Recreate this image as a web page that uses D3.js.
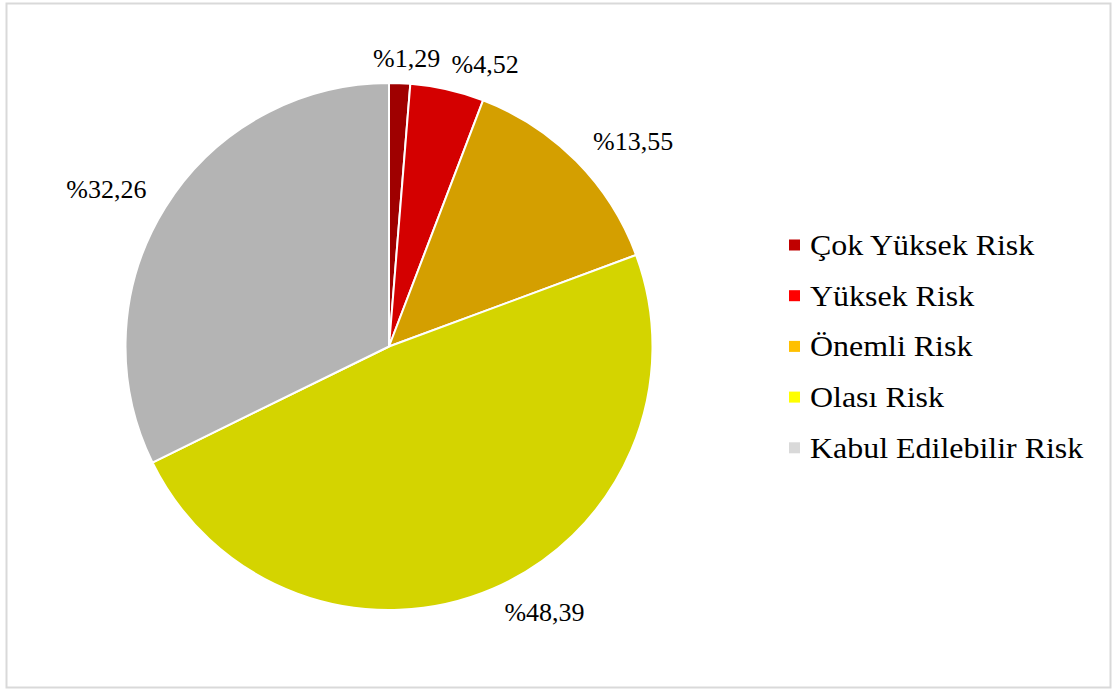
<!DOCTYPE html>
<html>
<head>
<meta charset="utf-8">
<script src="https://cdn.jsdelivr.net/npm/d3@7"></script>
<style>
  html, body { margin: 0; padding: 0; background: #ffffff; }
  svg { display: block; }
  text { font-family: "Liberation Serif", "Times New Roman", serif; fill: #000; }
</style>
</head>
<body>
<svg id="chart" width="1115" height="690"></svg>
<script>
// Risk categories and their shares (%)
const categories = ["Çok Yüksek Risk", "Yüksek Risk", "Önemli Risk", "Olası Risk", "Kabul Edilebilir Risk"];
const shares = [1.29, 4.52, 13.55, 48.39, 32.26];
const shareLabels = ["%1,29", "%4,52", "%13,55", "%48,39", "%32,26"];
const legendColors = ["#C00000", "#FF0000", "#FFC000", "#FFFF00", "#D9D9D9"];

const svg = d3.select("#chart");

// outer frame
svg.append("rect")
  .attr("x", 6.5).attr("y", 3.5)
  .attr("width", 1104).attr("height", 684)
  .attr("fill", "#fff")
  .attr("stroke", "#d9d9d9").attr("stroke-width", 2);

const cx = 389, cy = 346.5, r = 263.5;

// slices are drawn with a shaded version of each legend colour
const shade = c => {
  const k = d3.rgb(c);
  return d3.rgb(k.r * 0.83, k.g * 0.83, k.b * 0.83).formatHex();
};

const color = d3.scaleOrdinal().domain(categories).range(legendColors);

const pie = d3.pie().sort(null).value(d => d.v);
const data = categories.map((c, i) => ({ c, v: shares[i], label: shareLabels[i] }));
const arcs = pie(data);
const arc = d3.arc().innerRadius(0).outerRadius(r);

const g = svg.append("g").attr("transform", `translate(${cx},${cy})`);

g.selectAll("path.slice")
  .data(arcs)
  .join("path")
  .attr("class", "slice")
  .attr("d", arc)
  .attr("fill", d => shade(color(d.data.c)))
  .attr("stroke", "#ffffff")
  .attr("stroke-width", 2)
  .attr("stroke-linejoin", "round");

// data labels placed just outside each slice's outer edge
const labelSize = 26, capH = labelSize * 0.66, gap = 280, padX = 5;
const clamp = v => Math.max(-1, Math.min(1, v));
const labels = g.selectAll("text.val")
  .data(arcs)
  .join("text")
  .attr("class", "val")
  .style("font-size", labelSize + "px")
  .text(d => d.data.label);

labels.each(function (d) {
  const a = (d.startAngle + d.endAngle) / 2;
  const s = Math.sin(a), c = Math.cos(a);
  const px = s * gap, py = -c * gap;
  const w = this.getComputedTextLength() + 2 * padX;
  const fx = 0.5 - 0.5 * clamp(4 * s);
  const fy = 0.5 + 0.5 * clamp(3 * c);
  const left = px - fx * w + padX;
  const top = py - fy * capH;
  d3.select(this).attr("x", left).attr("y", top + capH);
});

// legend
const legendSize = 30, rowGap = 50.7, legX = 789, legY = 245, stretch = 1.065;
const leg = svg.append("g");
const rows = leg.selectAll("g.row")
  .data(categories)
  .join("g")
  .attr("class", "row")
  .attr("transform", (d, i) => `translate(${legX},${legY + i * rowGap})`);

rows.append("rect")
  .attr("x", 0).attr("y", -5.5)
  .attr("width", 11).attr("height", 11)
  .attr("fill", d => color(d));

rows.append("text")
  .attr("transform", `translate(21,${legendSize * 0.33}) scale(${stretch},1)`)
  .style("font-size", legendSize + "px")
  .text(d => d);
</script>
</body>
</html>
